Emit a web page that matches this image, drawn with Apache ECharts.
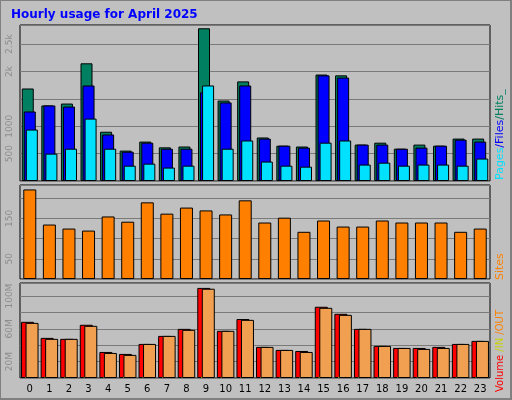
<!DOCTYPE html><html><head><meta charset="utf-8">
<script src="https://cdn.jsdelivr.net/npm/echarts@6/dist/echarts.min.js"></script>
<style>body{margin:0;background:#c0c0c0}#c{width:512px;height:400px}</style></head><body><div id="c"></div><script>
const hours=['0','1','2','3','4','5','6','7','8','9','10','11','12','13','14','15','16','17','18','19','20','21','22','23'];
const hits=[1690,1380,1415,2150,900,555,720,615,630,2790,1470,1820,795,645,630,1945,1930,665,700,590,665,645,775,775];
const files=[1270,1380,1360,1745,850,535,700,590,590,1620,1435,1745,775,645,610,1930,1890,665,665,590,610,645,755,720];
const pages=[940,500,590,1140,590,280,317,245,280,1745,590,740,355,280,262,700,740,300,335,280,300,300,280,410];
const sites=[222,135,125,120,155,142,190,162,177,170,160,195,140,152,117,145,130,130,145,140,140,140,117,125];
const volume=[68.6,49,47.8,65,31.8,29.4,41.6,51.4,60,110,57.6,72,38,34.3,33,87,78.4,60,39.2,36.7,36.7,38,41.6,45.3];
const volIn=[0.8,0.8,0.8,0.8,0.8,0.8,0.8,0.8,0.8,1.5,0.8,0.8,0.8,0.8,0.8,1.5,1.5,0.8,0.8,0.8,0.8,0.8,0.8,0.8];
const volOut=[67.3,47.8,47.8,63.7,30.6,28.2,41.6,51.4,58.8,109,57.6,71,38,34.3,31.8,85.7,77.1,60,39.2,36.7,35.5,36.7,41.6,45.3];
const ch=echarts.init(document.getElementById('c'));
const L=20,W=470;
const grids=[{left:L,width:W,top:25,height:156},{left:L,width:W,top:185,height:94},{left:L,width:W,top:283,height:95}];
const gl={show:true,lineStyle:{color:'#7a7a7a'}};
const yl=(f)=>({rotate:90,color:'#8c8c8c',fontSize:9,fontFamily:'DejaVu Sans',margin:6,formatter:f});
const bs=(c)=>({color:c,borderColor:'#000',borderWidth:1});
const xa=(i,show)=>({type:'category',gridIndex:i,data:hours,axisTick:{show:false},axisLine:{show:false},axisLabel:{show:show,color:'#000',fontSize:10,fontFamily:'DejaVu Sans',margin:6}});
ch.setOption({animation:false,backgroundColor:'#c0c0c0',
title:{text:'Hourly usage for April 2025',left:6,top:4,textStyle:{color:'#0000ff',fontSize:12,fontWeight:'bold',fontFamily:'DejaVu Sans'}},
grid:grids.map(g=>Object.assign({show:true,borderColor:'#000',borderWidth:1,backgroundColor:'#c0c0c0'},g)),
xAxis:[xa(0,false),xa(1,false),xa(2,true)],
yAxis:[
{type:'value',gridIndex:0,min:0,max:2850,interval:500,splitLine:gl,axisLine:{show:false},axisTick:{show:false},axisLabel:yl(v=>({500:'500',1000:'1000',2000:'2k',2500:'2.5k'})[v]||'')},
{type:'value',gridIndex:1,min:0,max:233,interval:50,splitLine:gl,axisLine:{show:false},axisTick:{show:false},axisLabel:yl(v=>(v==50||v==150)?String(v):'')},
{type:'value',gridIndex:2,min:0,max:116,interval:20,splitLine:gl,axisLine:{show:false},axisTick:{show:false},axisLabel:yl(v=>(v==20||v==60||v==100)?v+'M':'')}],
series:[
{type:'bar',name:'Hits',data:hits,xAxisIndex:0,yAxisIndex:0,barWidth:12,barGap:'-83%',itemStyle:bs('#008060')},
{type:'bar',name:'Files',data:files,xAxisIndex:0,yAxisIndex:0,barWidth:12,barGap:'-83%',itemStyle:bs('#0000ff')},
{type:'bar',name:'Pages',data:pages,xAxisIndex:0,yAxisIndex:0,barWidth:12,barGap:'-83%',itemStyle:bs('#00e0ff')},
{type:'bar',name:'Sites',data:sites,xAxisIndex:1,yAxisIndex:1,barWidth:13,itemStyle:bs('#ff8000')},
{type:'bar',name:'Volume',data:volume,xAxisIndex:2,yAxisIndex:2,barWidth:13,barGap:'-85%',itemStyle:bs('#ff0000')},
{type:'bar',name:'IN',data:volIn,xAxisIndex:2,yAxisIndex:2,barWidth:2,barGap:'-100%',itemStyle:{color:'#d0e000'}},
{type:'bar',name:'OUT',data:volOut,xAxisIndex:2,yAxisIndex:2,barWidth:13,barGap:'-70%',itemStyle:bs('#f0a050')}],
graphic:[
{type:'rect',shape:{x:0,y:0,width:511,height:399},style:{fill:'none',stroke:'#808080',lineWidth:2}},
{type:'text',x:495,y:180,rotation:Math.PI/2,style:{text:'{a|Pages}{b|/Files}{c|/Hits_}',rich:{a:{fill:'#00e0ff',font:'11px DejaVu Sans'},b:{fill:'#0000ff',font:'11px DejaVu Sans'},c:{fill:'#008060',font:'11px DejaVu Sans'}},font:'11px DejaVu Sans'}},
{type:'text',x:495,y:280,rotation:Math.PI/2,style:{text:'Sites',font:'11px DejaVu Sans',fill:'#ff8000'}},
{type:'text',x:495,y:392,rotation:Math.PI/2,style:{text:'{a|Volume}{b| /IN}{c| /OUT}',rich:{a:{fill:'#ff0000',font:'10px DejaVu Sans'},b:{fill:'#c8d000',font:'10px DejaVu Sans'},c:{fill:'#ff8000',font:'10px DejaVu Sans'}},font:'10px DejaVu Sans'}}
]});
</script></body></html>
